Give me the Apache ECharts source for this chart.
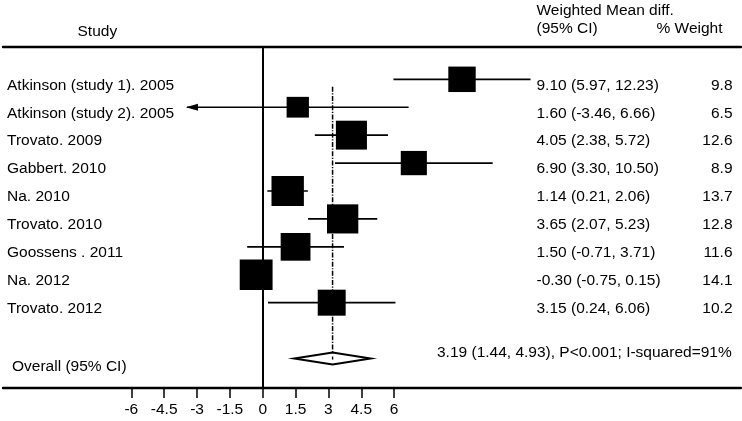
<!DOCTYPE html>
<html><head><meta charset="utf-8">
<script src="https://cdn.jsdelivr.net/npm/echarts@6/dist/echarts.min.js"></script>
<style>html,body{margin:0;padding:0;background:#fff}#c{width:742px;height:421px}</style>
</head><body><div id="c"></div>
<script>
const studies = ['Atkinson (study 1). 2005', 'Atkinson (study 2). 2005', 'Trovato. 2009', 'Gabbert. 2010', 'Na. 2010', 'Trovato. 2010', 'Goossens . 2011', 'Na. 2012', 'Trovato. 2012'];
const estimate = [9.10, 1.60, 4.05, 6.90, 1.14, 3.65, 1.50, -0.30, 3.15];
const lower = [5.97, -3.46, 2.38, 3.30, 0.21, 2.07, -0.71, -0.75, 0.24];
const upper = [12.23, 6.66, 5.72, 10.50, 2.06, 5.23, 3.71, 0.15, 6.06];
const weight = [9.8, 6.5, 12.6, 8.9, 13.7, 12.8, 11.6, 14.1, 10.2];
const arrowLeft = [false, true, false, false, false, false, false, false, false];
const overallLabel = 'Overall (95% CI)';
const overallEstimate = 3.19;
const overallLower = 1.44;
const overallUpper = 4.93;
const overallText = '3.19 (1.44, 4.93), P<0.001; I-squared=91%';
const tickValues = [-6, -4.5, -3, -1.5, 0, 1.5, 3, 4.5, 6];

const FAMILY = '"Liberation Sans", Arial, sans-serif';
const FONT = '15.5px ' + FAMILY;
const chart = echarts.init(document.getElementById('c'), null, {renderer: 'canvas'});

const studyData = studies.map((s, i) => [estimate[i], i + 1, lower[i], upper[i], weight[i], i]);
const overallRow = studies.length + 2;

function renderStudy(params, api) {
  const i = api.value(5);
  const yv = api.value(1);
  const c = api.coord([api.value(0), yv]);
  const lo = api.coord([api.value(2), yv]);
  const hi = api.coord([api.value(3), yv]);
  const w = 8.75 * Math.sqrt(api.value(4));
  const h = 0.93 * w;
  const children = [];
  children.push({type: 'line', shape: {x1: lo[0], y1: lo[1], x2: hi[0], y2: hi[1]}, style: {stroke: '#000', lineWidth: 1.7}});
  if (arrowLeft[i]) {
    children.push({type: 'polygon', shape: {points: [[lo[0] - 1, lo[1]], [lo[0] + 11, lo[1] - 3.5], [lo[0] + 11, lo[1] + 3.5]]}, style: {fill: '#000'}});
  }
  children.push({type: 'rect', shape: {x: c[0] - w / 2, y: c[1] - h / 2, width: w, height: h}, style: {fill: '#000'}});
  const ty = c[1] + 6;
  children.push({type: 'text', style: {text: studies[i], x: 7, y: ty, font: FONT, fill: '#000', textAlign: 'left', textVerticalAlign: 'middle'}});
  const ci = estimate[i].toFixed(2) + ' (' + lower[i].toFixed(2) + ', ' + upper[i].toFixed(2) + ')';
  children.push({type: 'text', style: {text: ci, x: 536.5, y: ty, font: FONT, fill: '#000', textAlign: 'left', textVerticalAlign: 'middle'}});
  children.push({type: 'text', style: {text: weight[i].toFixed(1), x: 732.5, y: ty, font: FONT, fill: '#000', textAlign: 'right', textVerticalAlign: 'middle'}});
  return {type: 'group', children};
}

function renderOverall(params, api) {
  const yv = api.value(1);
  const c = api.coord([api.value(0), yv]);
  const lo = api.coord([api.value(2), yv]);
  const hi = api.coord([api.value(3), yv]);
  const top = api.coord([api.value(0), 1.27]);
  const hh = 6;
  return {type: 'group', children: [
    {type: 'line', shape: {x1: c[0], y1: top[1], x2: c[0], y2: c[1] - hh}, style: {stroke: '#000', lineWidth: 1.5, lineDash: [5, 1.5, 1.2, 1.5]}},
    {type: 'polygon', shape: {points: [[lo[0], c[1]], [c[0], c[1] - hh], [hi[0], c[1]], [c[0], c[1] + hh]]}, style: {fill: '#fff', stroke: '#000', lineWidth: 2}},
    {type: 'rect', shape: {x: c[0] - 0.7, y: c[1] - 2, width: 1.4, height: 3}, style: {fill: '#000'}},
    {type: 'text', style: {text: overallLabel, x: 12, y: c[1] + 8, font: FONT, fill: '#000', textAlign: 'left', textVerticalAlign: 'middle'}},
    {type: 'text', style: {text: overallText, x: 731.7, y: c[1] - 5.5, font: FONT, fill: '#000', textAlign: 'right', textVerticalAlign: 'middle'}}
  ]};
}

const xMin = -11.86, xMax = 21.84;
chart.setOption({
  animation: false,
  backgroundColor: '#fff',
  textStyle: {fontFamily: FAMILY},
  grid: {left: 3, right: 1, top: 47, bottom: 33},
  xAxis: [{
    type: 'value', min: xMin, max: xMax, position: 'bottom',
    axisLine: {show: true, onZero: false, lineStyle: {color: '#000', width: 2.4}},
    axisTick: {show: true, customValues: tickValues, length: 10, lineStyle: {color: '#000', width: 1.5}},
    axisLabel: {show: true, customValues: tickValues, fontSize: 15.5, color: '#000', margin: 14, fontFamily: FAMILY},
    splitLine: {show: false}
  }, {
    type: 'value', min: xMin, max: xMax, position: 'top',
    axisLine: {show: true, onZero: false, lineStyle: {color: '#000', width: 2.4}},
    axisTick: {show: false}, axisLabel: {show: false}, splitLine: {show: false}
  }],
  yAxis: {
    type: 'value', inverse: true, min: -0.157, max: 12.056,
    axisLine: {show: true, onZero: true, lineStyle: {color: '#000', width: 2}},
    axisTick: {show: false}, axisLabel: {show: false}, splitLine: {show: false}
  },
  graphic: [
    {type: 'text', left: 77.5, top: 24, style: {text: 'Study', font: FONT, fill: '#000'}},
    {type: 'text', left: 536.5, top: 3, style: {text: 'Weighted Mean diff.', font: FONT, fill: '#000'}},
    {type: 'text', left: 536.5, top: 21, style: {text: '(95% CI)', font: FONT, fill: '#000'}},
    {type: 'text', right: 19.5, top: 21, style: {text: '% Weight', font: FONT, fill: '#000'}}
  ],
  series: [{
    type: 'custom', renderItem: renderStudy, data: studyData, encode: {x: 0, y: 1}, clip: false, z: 3
  }, {
    type: 'custom', renderItem: renderOverall, data: [[overallEstimate, overallRow, overallLower, overallUpper]], encode: {x: 0, y: 1}, clip: false, z: 2
  }]
});
</script>
</body></html>
